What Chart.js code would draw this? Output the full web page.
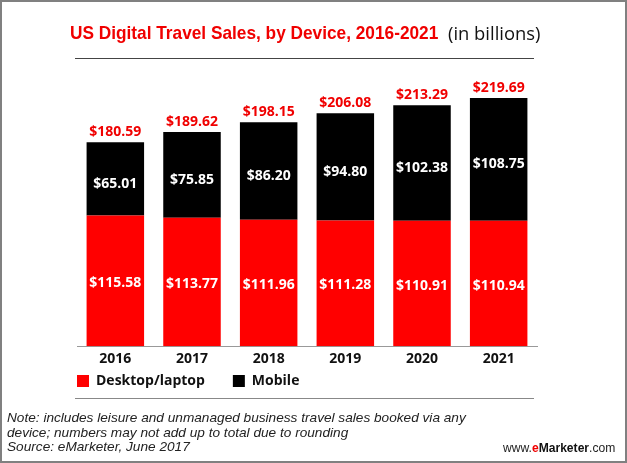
<!DOCTYPE html>
<html>
<head>
<meta charset="utf-8">
<script src="https://cdn.jsdelivr.net/npm/chart.js@4"></script>
<style>
  html, body { margin: 0; padding: 0; background: #fff; }
  #wrap { position: relative; width: 627px; height: 463px; overflow: hidden; }
  #wrap canvas { position: absolute; left: 0; top: 0; }
  #frame { position: absolute; left: 0; top: 0; width: 623px; height: 459px; border: 2px solid #808080; }
  .txt { position: absolute; white-space: nowrap; }
  #title { left: 70px; top: 22px; font: bold 19px "Liberation Sans", sans-serif; color: #f00000; transform: scaleX(0.908); transform-origin: left top; }
  #unit { left: 448px; top: 20px; font: 18.4px "Open Sans", sans-serif; color: #111; }
  .rule { position: absolute; left: 75px; width: 459px; height: 1px; }
  .note { left: 7px; font: italic 13.65px/14.5px "Liberation Sans", sans-serif; color: #222; }
  #site { left: 503px; top: 441px; font: 12.1px "Liberation Sans", sans-serif; color: #222; }
  #site b { color: #111; }
  #site i { color: #f00000; font-style: normal; font-weight: bold; }
</style>
</head>
<body>
<div id="wrap">
  <canvas id="chart" width="627" height="463"></canvas>
  <div id="frame"></div>
  <div class="txt" id="title">US Digital Travel Sales, by Device, 2016-2021</div>
  <div class="txt" id="unit">(in billions)</div>
  <div class="rule" style="top:58px;background:#444"></div>
  <div class="rule" style="top:398px;background:#888"></div>
  <div class="txt note" style="top:411px">Note: includes leisure and unmanaged business travel sales booked via any<br>device; numbers may not add up to total due to rounding<br>Source: eMarketer, June 2017</div>
  <div class="txt" id="site">www.<i>e</i><b>Marketer</b>.com</div>
</div>
<script>
const years = ["2016", "2017", "2018", "2019", "2020", "2021"];
const desktop = [115.58, 113.77, 111.96, 111.28, 110.91, 110.94];
const mobile = [65.01, 75.85, 86.2, 94.8, 102.38, 108.75];
const totals = [180.59, 189.62, 198.15, 206.08, 213.29, 219.69];

const labelFont = 'bold 14px "Open Sans", sans-serif';
const legendPadding = 28;

// values inside the bars and the totals on top
const barLabels = {
  id: "barLabels",
  afterLayout(c) {
    // legend sits flush with the axis and closer to the ticks than the layout puts it
    c.legend.left -= legendPadding;
    c.legend.top = 381 - legendPadding - 7;
  },
  afterDatasetsDraw(c) {
    const g = c.ctx;
    g.save();
    g.font = labelFont;
    g.textAlign = "center";
    g.textBaseline = "middle";
    c.data.datasets.forEach((ds, d) => {
      c.getDatasetMeta(d).data.forEach((bar, i) => {
        g.fillStyle = "#fff";
        const shift = d === 1 ? 5 : 2;
        g.fillText("$" + ds.data[i].toFixed(2), bar.x, (bar.y + bar.base) / 2 + shift);
        if (d === 1) {
          g.fillStyle = "#f00000";
          g.fillText("$" + totals[i].toFixed(2), bar.x, bar.y - 10);
        }
      });
    });
    g.restore();
  },
};

new Chart(document.getElementById("chart"), {
  type: "bar",
  data: {
    labels: years,
    datasets: [
      { label: "Desktop/laptop", data: desktop, backgroundColor: "#ff0000" },
      { label: "Mobile", data: mobile, backgroundColor: "#000000" },
    ],
  },
  options: {
    responsive: false,
    animation: false,
    barPercentage: 0.75,
    categoryPercentage: 1,
    layout: { padding: { left: 77, right: 90, top: 75, bottom: 40 } },
    plugins: {
      legend: {
        position: "bottom",
        align: "start",
        labels: {
          boxWidth: 12,
          boxHeight: 12,
          padding: legendPadding,
          color: "#111",
          font: { family: "Open Sans", weight: "bold", size: 14 },
        },
      },
      tooltip: { enabled: false },
    },
    scales: {
      x: {
        stacked: true,
        grid: { display: false, drawTicks: false },
        border: { color: "#999", width: 1 },
        ticks: {
          color: "#111",
          padding: 4,
          font: { family: "Open Sans", weight: "bold", size: 14 },
        },
      },
      y: { stacked: true, display: false, min: 0, max: 240 },
    },
  },
  plugins: [barLabels],
});
</script>
</body>
</html>
